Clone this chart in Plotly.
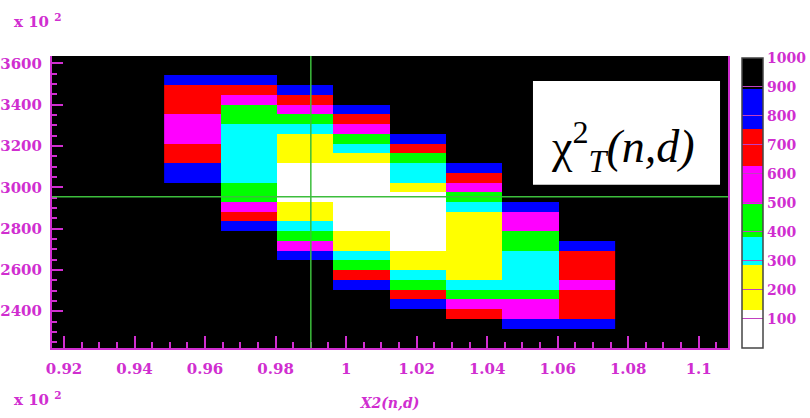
import numpy as np
import plotly.graph_objects as go

# Histogram binning (x: 0.016-wide columns, y: 30 rows over the displayed range, units of 10^2)
x_centers = [0.9564, 0.9724, 0.9884, 1.0044, 1.0204, 1.0364, 1.0524, 1.0684]
y_edges = np.linspace(2222, 3636, 31)
y_centers = 0.5 * (y_edges[:-1] + y_edges[1:])

# chi2_T values per bin, listed from the top row down; None = empty bin
z_top_down = [
    [None, None, None, None, None, None, None, None],
    [None, None, None, None, None, None, None, None],
    [860, 845, None, None, None, None, None, None],
    [735, 720, 850, None, None, None, None, None],
    [700, 600, 730, None, None, None, None, None],
    [670, 480, 610, 860, None, None, None, None],
    [610, 450, 470, 720, None, None, None, None],
    [570, 370, 360, 600, None, None, None, None],
    [560, 345, 270, 470, 855, None, None, None],
    [650, 330, 240, 350, 715, None, None, None],
    [690, 325, 200, 250, 460, None, None, None],
    [780, 330, 120, 110, 370, 860, None, None],
    [840, 350, 90, 70, 330, 730, None, None],
    [None, 410, 70, 40, 270, 610, None, None],
    [None, 460, 100, 20, 110, 480, None, None],
    [None, 560, 160, 10, 60, 370, 860, None],
    [None, 710, 230, 40, 30, 280, 610, None],
    [None, 850, 340, 100, 50, 240, 560, None],
    [None, None, 450, 180, 90, 170, 470, None],
    [None, None, 590, 250, 120, 150, 420, 850],
    [None, None, 830, 340, 180, 160, 370, 720],
    [None, None, None, 460, 250, 190, 330, 690],
    [None, None, None, 700, 360, 260, 310, 650],
    [None, None, None, 840, 450, 350, 360, 600],
    [None, None, None, None, 700, 450, 430, 660],
    [None, None, None, None, 850, 590, 540, 700],
    [None, None, None, None, None, 720, 610, 740],
    [None, None, None, None, None, None, 820, 860],
    [None, None, None, None, None, None, None, None],
    [None, None, None, None, None, None, None, None],
]
z = z_top_down[::-1]

# Contour levels and the 8-colour palette between them
levels = [0, 131, 286, 383, 495, 628, 754, 894, 1000]
palette = ["#ffffff", "#ffff00", "#00ffff", "#00ff00",
           "#ff00ff", "#ff0000", "#0000ff", "#000000"]

x_ticks = [0.92, 0.94, 0.96, 0.98, 1.0, 1.02, 1.04, 1.06, 1.08, 1.1]
x_tick_labels = ["0.92", "0.94", "0.96", "0.98", "1", "1.02", "1.04", "1.06", "1.08", "1.1"]
y_ticks = [2400, 2600, 2800, 3000, 3200, 3400, 3600]
y_tick_labels = ["2400", "2600", "2800", "3000", "3200", "3400", "3600"]
z_ticks = [100, 200, 300, 400, 500, 600, 700, 800, 900, 1000]

# Cursor position of the crosshair
cross_x = 0.99
cross_y = 2955

MAG = "#d02ed0"
GREEN = "#3cbe3c"
LABEL_FONT = "DejaVu Serif"
SERIF = "Liberation Serif"

colorscale = []
lo, hi = levels[0], levels[-1]
for i, c in enumerate(palette):
    colorscale.append([(levels[i] - lo) / (hi - lo), c])
    colorscale.append([(levels[i + 1] - lo) / (hi - lo), c])

axis_font = dict(family=LABEL_FONT, size=15, color=MAG, weight="bold")

fig = go.Figure()
fig.add_trace(go.Heatmap(
    x=x_centers, y=y_centers, z=z,
    zmin=lo, zmax=hi, colorscale=colorscale,
    hoverongaps=False,
    colorbar=dict(
        x=(742 - 52) / 676, xanchor="left", xpad=0, ypad=0,
        y=0.4976, yanchor="middle", len=290 / 292, lenmode="fraction",
        thickness=21, outlinecolor="#444444", outlinewidth=1.5,
        tickvals=z_ticks, ticks="inside", ticklen=21, tickwidth=1,
        tickcolor="#c040c0",
        tickfont=dict(family=LABEL_FONT, size=14, color=MAG, weight="bold"),
    ),
))

fig.update_xaxes(
    range=[0.9166, 1.1083], showgrid=False, zeroline=False,
    showline=True, linecolor=MAG, linewidth=2, mirror=False,
    tickvals=x_ticks, ticktext=x_tick_labels,
    ticks="inside", ticklen=12, tickwidth=1.5, tickcolor=MAG,
    minor=dict(dtick=0.005, tick0=0.92, ticks="inside", ticklen=6,
               tickcolor=MAG, tickwidth=1.5),
    tickfont=axis_font, ticklabelstandoff=6,
    title=dict(text="X2(n,d)", standoff=21,
               font=dict(family=LABEL_FONT, size=14, color=MAG,
                         weight="bold", style="italic")),
)
fig.update_yaxes(
    range=[2222, 3636], showgrid=False, zeroline=False,
    showline=True, linecolor=MAG, linewidth=2, mirror=True,
    tickvals=y_ticks, ticktext=y_tick_labels,
    ticks="inside", ticklen=11, tickwidth=1.5, tickcolor=MAG,
    minor=dict(dtick=50, tick0=2400, ticks="inside", ticklen=5,
               tickcolor=MAG, tickwidth=1.5),
    tickfont=axis_font, ticklabelstandoff=5,
)

# Crosshair
fig.add_shape(type="line", xref="x", yref="paper", x0=cross_x, x1=cross_x, y0=0, y1=1,
              line=dict(color=GREEN, width=1.5))
fig.add_shape(type="line", xref="paper", yref="y", x0=0, x1=1, y0=cross_y, y1=cross_y,
              line=dict(color=GREEN, width=1.5))

# Title box inside the frame
fig.add_shape(type="rect", xref="paper", yref="paper",
              x0=0.7115, x1=0.9882, y0=0.5587, y1=0.9145,
              fillcolor="white", line=dict(width=0), layer="above")
fig.add_annotation(xref="paper", yref="paper", x=0.845, y=0.69,
                   text="χ<sup>2</sup><sub><i>T</i></sub><i>(n,d)</i>",
                   showarrow=False, xanchor="center", yanchor="middle",
                   font=dict(family=SERIF, size=46, color="black"))

# Axis multipliers
for yy in (1.12, -0.175):
    fig.add_annotation(xref="paper", yref="paper", x=-0.059, y=yy,
                       text="x 10 <sup>2</sup>", showarrow=False,
                       xanchor="left", yanchor="middle",
                       font=axis_font)

fig.update_layout(
    width=810, height=418,
    margin=dict(l=52, r=82, t=56, b=70, autoexpand=False),
    paper_bgcolor="white", plot_bgcolor="black",
    showlegend=False,
)

fig.write_html("out.html")
